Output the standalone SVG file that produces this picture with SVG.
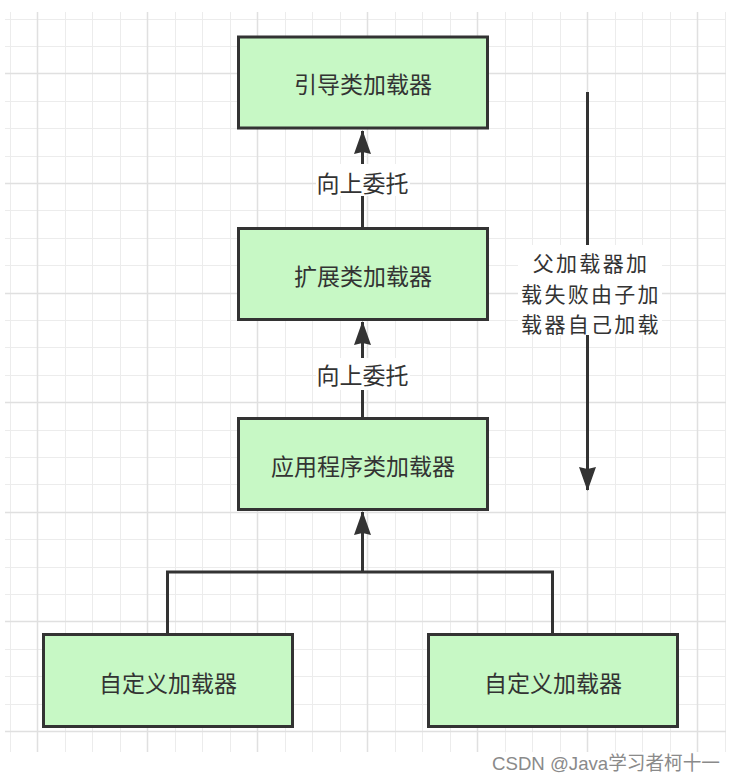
<svg xmlns="http://www.w3.org/2000/svg" width="736" height="782" viewBox="0 0 736 782">
<style>
.minor{stroke:#ececec;stroke-width:1;fill:none}
.major{stroke:#e0e0e0;stroke-width:1.5;fill:none}
.box{fill:#c7f8c5;stroke:#333333;stroke-width:3}
.lbl{font-family:"Noto Sans CJK SC","Noto Sans",sans-serif;font-size:23px;fill:#333333;text-anchor:middle;dominant-baseline:central}
.side{font-size:21px;letter-spacing:2.3px}
.edge{stroke:#333333;stroke-width:3;fill:none}
.bg{fill:#ffffff}
.wm{font-family:"Liberation Sans","Noto Sans CJK SC",sans-serif;font-size:19px;fill:#8a8a8a}
</style>
<defs>
<marker id="arr" markerUnits="userSpaceOnUse" markerWidth="26" markerHeight="20" viewBox="0 0 26 20" refX="24" refY="10" orient="auto">
<path d="M25 10L1 1.5L3 10L1 18.5Z" fill="#333333"/>
</marker>
</defs>
<rect width="736" height="782" fill="#ffffff"/>
<g id="grid">
<path class="minor" d="M10.5 12V752M65.5 12V752M92.5 12V752M120.5 12V752M175.5 12V752M202.5 12V752M230.5 12V752M285.5 12V752M312.5 12V752M340.5 12V752M395.5 12V752M422.5 12V752M450.5 12V752M505.5 12V752M532.5 12V752M560.5 12V752M615.5 12V752M642.5 12V752M670.5 12V752M725.5 12V752
M5 19.5H726M5 46.5H726M5 101.5H726M5 128.5H726M5 156.5H726M5 210.5H726M5 238.5H726M5 265.5H726M5 320.5H726M5 347.5H726M5 375.5H726M5 430.5H726M5 457.5H726M5 484.5H726M5 539.5H726M5 567.5H726M5 594.5H726M5 649.5H726M5 676.5H726M5 704.5H726"/>
<path class="major" d="M37.5 12V752M147.5 12V752M257.5 12V752M367.5 12V752M477.5 12V752M587.5 12V752M697.5 12V752
M5 73.5H726M5 183.5H726M5 293.5H726M5 402.5H726M5 512.5H726M5 621.5H726M5 731.5H726"/>
</g>
<g id="connectors">
<path class="edge" d="M362.5 228V131" marker-end="url(#arr)"/>
<path class="edge" d="M362.5 418V322" marker-end="url(#arr)"/>
<path class="edge" d="M167.5 634V572H552.5V634M362.5 572V512" marker-end="url(#arr)"/>
<path class="edge" d="M587.5 92V490" marker-end="url(#arr)"/>
<g id="label-delegate-1">
<rect class="bg" x="316" y="164" width="94" height="32"/>
<text class="lbl" x="362.5" y="182">向上委托</text>
</g>
<g id="label-delegate-2">
<rect class="bg" x="316" y="358" width="94" height="32"/>
<text class="lbl" x="362.5" y="374">向上委托</text>
</g>
<g id="label-fail">
<rect class="bg" x="518" y="245" width="144" height="90"/>
<text class="lbl side" x="591" y="262">父加载器加</text>
<text class="lbl side" x="591" y="292.5">载失败由子加</text>
<text class="lbl side" x="591" y="323">载器自己加载</text>
</g>
</g>
<g id="node-bootstrap">
<rect class="box" x="238.5" y="37" width="249" height="91"/>
<text class="lbl" x="363" y="83">引导类加载器</text>
</g>
<g id="node-ext">
<rect class="box" x="238.5" y="228.5" width="249" height="91"/>
<text class="lbl" x="363" y="275">扩展类加载器</text>
</g>
<g id="node-app">
<rect class="box" x="238.5" y="418.5" width="249" height="91"/>
<text class="lbl" x="363" y="465">应用程序类加载器</text>
</g>
<g id="node-custom-1">
<rect class="box" x="43.5" y="634.5" width="249" height="92"/>
<text class="lbl" x="168" y="682">自定义加载器</text>
</g>
<g id="node-custom-2">
<rect class="box" x="428.5" y="634.5" width="249" height="92"/>
<text class="lbl" x="553" y="682">自定义加载器</text>
</g>
<text class="wm" x="492" y="770" textLength="228" lengthAdjust="spacingAndGlyphs">CSDN @Java学习者柯十一</text>
</svg>
